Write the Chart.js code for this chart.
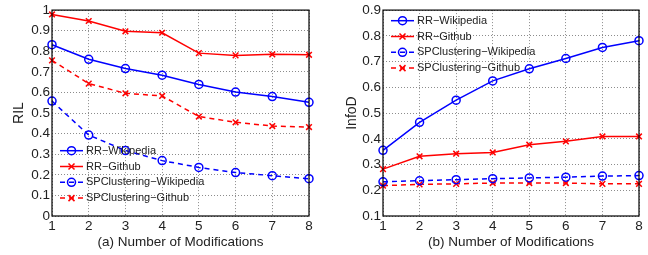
<!DOCTYPE html>
<html>
<head>
<meta charset="utf-8">
<script src="https://cdn.jsdelivr.net/npm/chart.js@4.4.1/dist/chart.umd.min.js"></script>
<style>
    body { margin: 0; background: #fff; }
    .wrap { position: absolute; top: 0; width: 324px; height: 255px; }
</style>
</head>
<body>
<div class="wrap" style="left:0"><canvas id="ril-chart" width="324" height="255"></canvas></div>
<div class="wrap" style="left:324px"><canvas id="infod-chart" width="324" height="255"></canvas></div>
<script>
const modifications = ['1', '2', '3', '4', '5', '6', '7', '8'];
const seriesNames = ['RR\u2212Wikipedia', 'RR\u2212Github', 'SPClustering\u2212Wikipedia', 'SPClustering\u2212Github'];

// (a) RIL
const rilRRWikipedia = [0.832, 0.761, 0.716, 0.684, 0.639, 0.602, 0.580, 0.552];
const rilRRGithub = [0.979, 0.947, 0.897, 0.890, 0.791, 0.780, 0.785, 0.783];
const rilSPWikipedia = [0.558, 0.393, 0.318, 0.269, 0.236, 0.211, 0.196, 0.181];
const rilSPGithub = [0.756, 0.643, 0.596, 0.583, 0.483, 0.455, 0.437, 0.432];
const rilTicks = ['0', '0.1', '0.2', '0.3', '0.4', '0.5', '0.6', '0.7', '0.8', '0.9', '1'];

// (b) InfoD
const infoRRWikipedia = [0.355, 0.464, 0.550, 0.625, 0.672, 0.712, 0.755, 0.781];
const infoRRGithub = [0.282, 0.332, 0.342, 0.347, 0.377, 0.390, 0.409, 0.409];
const infoSPWikipedia = [0.233, 0.237, 0.241, 0.245, 0.248, 0.251, 0.255, 0.257];
const infoSPGithub = [0.218, 0.223, 0.225, 0.228, 0.228, 0.228, 0.225, 0.225];
const infoTicks = ['0.1', '0.2', '0.3', '0.4', '0.5', '0.6', '0.7', '0.8', '0.9'];

const FONT = '"Liberation Sans", Helvetica, Arial, sans-serif';
const BLUE = '#0000ff';
const RED = '#ff0000';

function makeDatasets(values) {
    const styles = [
        { color: BLUE, point: 'circle', dash: [] },
        { color: RED, point: 'crossRot', dash: [] },
        { color: BLUE, point: 'circle', dash: [5, 4] },
        { color: RED, point: 'crossRot', dash: [5, 4] }
    ];
    return values.map((v, i) => ({
        label: seriesNames[i],
        data: v,
        borderColor: styles[i].color,
        backgroundColor: 'transparent',
        borderWidth: 1.5,
        borderDash: styles[i].dash,
        pointStyle: styles[i].point,
        pointRadius: 4,
        pointBorderWidth: 1.5,
        pointBorderColor: styles[i].color,
        pointBackgroundColor: 'transparent',
        tension: 0,
        clip: false
    }));
}

// box + legend inside the plot area
const boxLegendPlugin = {
    id: 'boxLegend',
    afterDraw(chart, args, opts) {
        const { ctx, chartArea: a } = chart;
        ctx.save();
        ctx.strokeStyle = '#000';
        ctx.lineWidth = 1.2;
        ctx.setLineDash([]);
        ctx.strokeRect(a.left, a.top, a.right - a.left, a.bottom - a.top);

        ctx.font = '11px ' + FONT;
        ctx.textBaseline = 'middle';
        chart.data.datasets.forEach((ds, i) => {
            const y = opts.y + i * opts.gap;
            ctx.strokeStyle = ds.borderColor;
            ctx.lineWidth = 1.5;
            ctx.setLineDash(ds.borderDash);
            ctx.beginPath();
            ctx.moveTo(opts.x, y);
            ctx.lineTo(opts.x + 23, y);
            ctx.stroke();
            ctx.setLineDash([]);
            ctx.beginPath();
            ctx.arc(opts.x + 11.5, y, 4, 0, Math.PI * 2);
            if (ds.pointStyle === 'circle') {
                ctx.stroke();
            } else {
                ctx.beginPath();
                ctx.moveTo(opts.x + 8.5, y - 3);
                ctx.lineTo(opts.x + 14.5, y + 3);
                ctx.moveTo(opts.x + 14.5, y - 3);
                ctx.lineTo(opts.x + 8.5, y + 3);
                ctx.stroke();
            }
            ctx.fillStyle = '#222';
            ctx.fillText(ds.label, opts.x + 26, y);
        });
        ctx.restore();
    }
};

function renderPanel(id, values, ticks, yTitle, xTitle, cfg) {
    const ctx = document.getElementById(id);
    new Chart(ctx, {
        type: 'line',
        data: { labels: modifications, datasets: makeDatasets(values) },
        plugins: [boxLegendPlugin],
        options: {
            responsive: false,
            animation: false,
            layout: { autoPadding: false, padding: { top: 10, right: cfg.right, left: 0, bottom: 0 } },
            scales: {
                x: {
                    offset: false,
                    grid: { color: '#8c8c8c', lineWidth: 1, drawTicks: false },
                    border: { display: false, dash: [1, 2] },
                    ticks: { color: '#222', font: { family: FONT, size: 13.5 }, padding: 2, maxRotation: 0 },
                    title: { display: true, text: xTitle, color: '#222', font: { family: FONT, size: 13.5 }, padding: { top: 0, bottom: 5 } },
                    afterFit: s => { s.height = 39; }
                },
                y: {
                    min: Number(ticks[0]),
                    max: Number(ticks[ticks.length - 1]),
                    ticks: {
                        stepSize: 0.1,
                        color: '#222',
                        font: { family: FONT, size: 13.5 },
                        padding: 2,
                        callback: (v, i) => ticks[i]
                    },
                    grid: { color: '#8c8c8c', lineWidth: 1, drawTicks: false },
                    border: { display: false, dash: [1, 2] },
                    title: { display: true, text: yTitle, color: '#222', font: { family: FONT, size: 14 }, padding: { top: cfg.titlePad, bottom: 0 } },
                    afterFit: s => { s.width = cfg.yWidth; }
                }
            },
            plugins: {
                legend: { display: false },
                tooltip: { enabled: false },
                boxLegend: cfg.legend
            }
        }
    });
}

renderPanel('ril-chart', [rilRRWikipedia, rilRRGithub, rilSPWikipedia, rilSPGithub], rilTicks,
    'RIL', '(a) Number of Modifications',
    { right: 15, yWidth: 52, titlePad: 10.5, legend: { x: 60, y: 150.7, gap: 15.8 } });

renderPanel('infod-chart', [infoRRWikipedia, infoRRGithub, infoSPWikipedia, infoSPGithub], infoTicks,
    'InfoD', '(b) Number of Modifications',
    { right: 9, yWidth: 59, titlePad: 19.5, legend: { x: 67, y: 20.7, gap: 15.8 } });
</script>
</body>
</html>
